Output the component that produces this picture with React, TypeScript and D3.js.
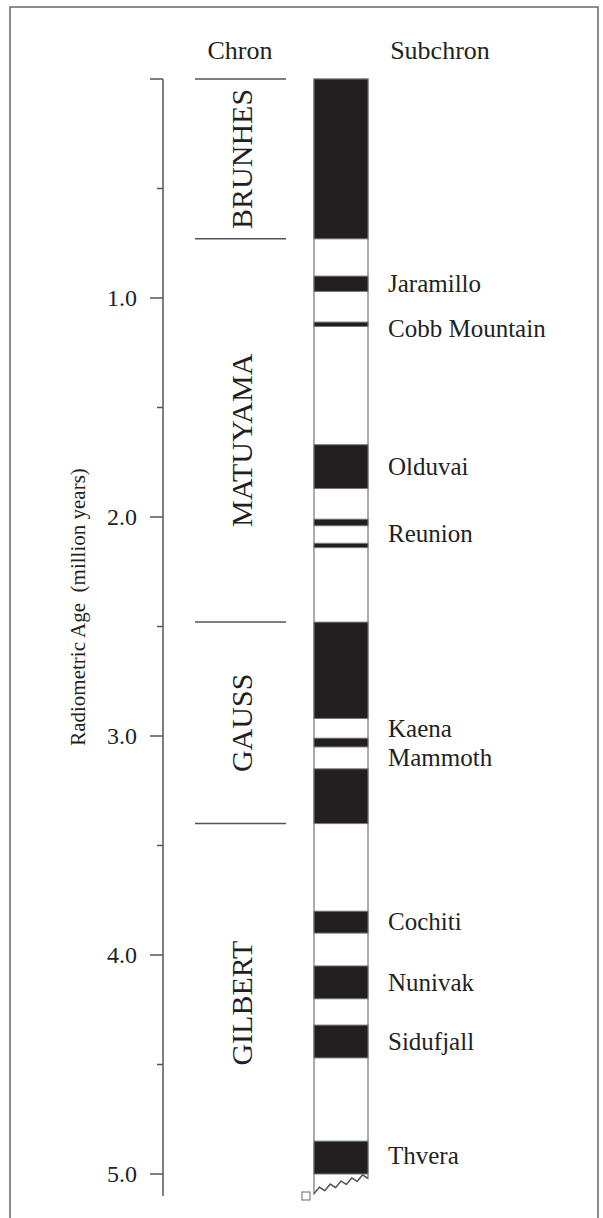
import React from 'react';
import * as d3 from 'd3';

// magnetic polarity timescale, ages in Ma
const chronNames = ['BRUNHES', 'MATUYAMA', 'GAUSS', 'GILBERT'];
const chronTops = [0, 0.73, 2.48, 3.4];
const chronLabelAges = [0.365, 1.65, 2.94, 4.22];

// normal polarity intervals (black)
const normalStart = [0, 0.9, 1.11, 1.67, 2.01, 2.12, 2.48, 3.01, 3.15, 3.8, 4.05, 4.32, 4.85];
const normalEnd = [0.73, 0.97, 1.13, 1.87, 2.04, 2.14, 2.92, 3.05, 3.4, 3.9, 4.2, 4.47, 5.0];

const subchronNames = ['Jaramillo', 'Cobb Mountain', 'Olduvai', 'Reunion', 'Kaena', 'Mammoth', 'Cochiti', 'Nunivak', 'Sidufjall', 'Thvera'];
const subchronAges = [0.935, 1.14, 1.77, 2.075, 2.965, 3.1, 3.85, 4.125, 4.395, 4.915];

const majorTicks = [0, 1, 2, 3, 4, 5];
const minorTicks = [0.5, 1.5, 2.5, 3.5, 4.5];
const tickLabels = ['1.0', '2.0', '3.0', '4.0', '5.0'];

const W = 603;
const H = 1218;
const FONT = '"Liberation Serif", "Times New Roman", Times, serif';
const INK = '#231f20';
const GREY = '#555';

export default function App() {
  const y = d3.scaleLinear().domain([0, 5]).range([79, 1174]);

  const axisX = 163;
  const colL = 314;
  const colR = 368;
  const axisEnd = 5.1;
  const bottomLeft = 5.09;
  const bottomRight = 5.02;

  // jagged break at the base of the column (sawtooth)
  const teeth = 5;
  const zig: [number, number][] = [];
  for (let i = 0; i <= teeth * 2; i++) {
    const t = i / (teeth * 2);
    const x = colL + t * (colR - colL);
    const base = y(bottomLeft) + t * (y(bottomRight) - y(bottomLeft));
    zig.push([x, base + (i % 2 === 0 ? 0 : -5)]);
  }
  const zigPath = d3.line()(zig) as string;

  const intervals = normalStart.map((s, i) => ({ s, e: normalEnd[i] }));
  const outline = [[colL, y(0)], [colR, y(0)], [colR, y(bottomRight) - 3], ...zig.slice().reverse()];

  return (
    <svg width={W} height={H} style={{ position: 'absolute', left: 0, top: 0, background: '#fff' }}>
      {/* frame */}
      <rect x={10} y={7} width={588} height={1230} fill="none" stroke="#666" strokeWidth={1.5} />

      {/* headers */}
      <text x={240} y={59} textAnchor="middle" fontFamily={FONT} fontSize={26} fill={INK}>Chron</text>
      <text x={440} y={59} textAnchor="middle" fontFamily={FONT} fontSize={26} fill={INK}>Subchron</text>

      {/* axis */}
      <line x1={axisX} x2={axisX} y1={y(0)} y2={y(axisEnd)} stroke={GREY} strokeWidth={1.5} />
      {majorTicks.map(t => (
        <line key={'M' + t} x1={axisX - 13} x2={axisX} y1={y(t)} y2={y(t)} stroke={GREY} strokeWidth={1.5} />
      ))}
      {minorTicks.map(t => (
        <line key={'m' + t} x1={axisX - 6} x2={axisX} y1={y(t)} y2={y(t)} stroke={GREY} strokeWidth={1.5} />
      ))}
      {tickLabels.map((l, i) => (
        <text key={l} x={137} y={y(majorTicks[i + 1])} dy="0.33em" textAnchor="end"
          fontFamily={FONT} fontSize={24} fill={INK}>{l}</text>
      ))}
      <text transform={`translate(85, 607) rotate(-90)`} textAnchor="middle" fontFamily={FONT}
        fontSize={21} fill={INK} style={{ whiteSpace: 'pre' }}>{'Radiometric Age  (million years)'}</text>

      {/* chron boundaries and names */}
      {chronTops.map(t => (
        <line key={'c' + t} x1={195} x2={286} y1={y(t)} y2={y(t)} stroke={GREY} strokeWidth={1.5} />
      ))}
      {chronNames.map((n, i) => (
        <text key={n} transform={`translate(252, ${y(chronLabelAges[i])}) rotate(-90)`} textAnchor="middle"
          fontFamily={FONT} fontSize={30} fill={INK}>{n}</text>
      ))}

      {/* polarity column */}
      <polygon points={outline.map(p => p.join(',')).join(' ')} fill="#fff" stroke="#777" strokeWidth={1.2} />
      {intervals.map((d, i) => (
        <rect key={i} x={colL} y={y(d.s)} width={colR - colL} height={y(d.e) - y(d.s)}
          fill={INK} stroke="#777" strokeWidth={1} />
      ))}
      <path d={zigPath} fill="none" stroke="#555" strokeWidth={1.3} />
      <rect x={302} y={1192} width={8} height={8} fill="#fff" stroke="#666" strokeWidth={1} />

      {/* subchron names */}
      {subchronNames.map((n, i) => (
        <text key={n} x={388} y={y(subchronAges[i])} dy="0.33em" fontFamily={FONT} fontSize={25} fill={INK}>{n}</text>
      ))}
    </svg>
  );
}
